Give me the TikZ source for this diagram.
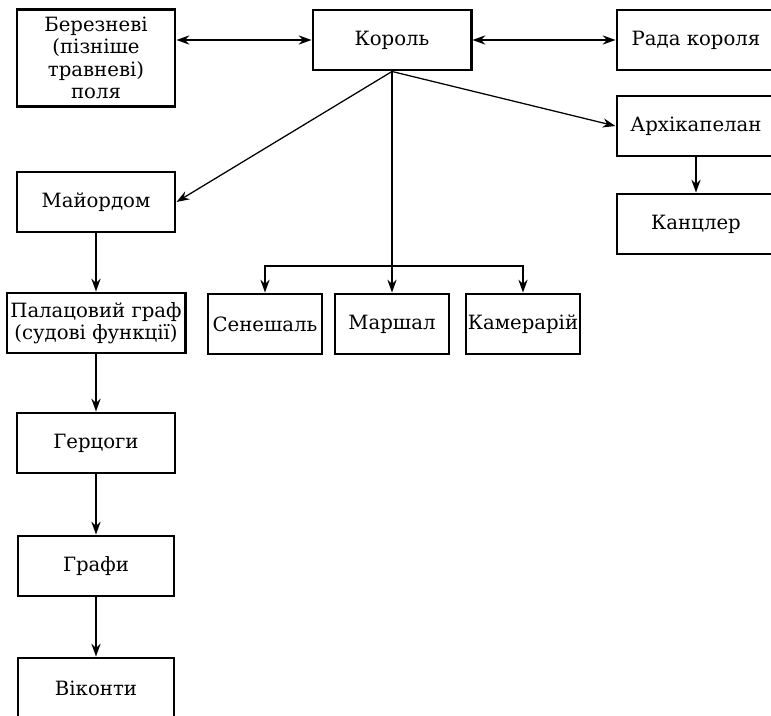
\documentclass[tikz,border=0pt]{standalone}
\usepackage{fontspec}
\setmainfont{DejaVu Serif}
\usetikzlibrary{arrows.meta}

\begin{document}
\begin{tikzpicture}[x=0.025cm, y=-0.025cm,
    box/.style={draw, line width=2.1pt, minimum height=1.5cm, align=center,
        inner sep=1pt, font=\fontsize{14}{16}\selectfont},
    arr/.style={-{Stealth[length=3.2mm, width=2.3mm]}, line width=0.9pt},
    both/.style={{Stealth[length=3.2mm, width=2.3mm]}-{Stealth[length=3.2mm, width=2.3mm]}, line width=0.9pt}]
    \useasboundingbox (0,0) rectangle (771,716);

    % top row
    \node[box, minimum width=3.95cm, minimum height=2.42cm] (berez) at (96,58) {Березневі\\(пізніше\\травневі)\\поля};
    \node[box, minimum width=3.95cm] (korol) at (392,40) {Король};
    \node[box, minimum width=3.95cm] (rada) at (696,40) {Рада короля};
    \draw[both] (korol.west -| berez.east) -- (korol.west);
    \draw[both] (korol) -- (rada);

    % right branch
    \node[box, minimum width=3.95cm] (arkh) at (696,126) {Архікапелан};
    \node[box, minimum width=3.95cm] (kancl) at (696,224) {Канцлер};
    \draw[arr] (korol.south) -- (arkh.west);
    \draw[arr] (arkh) -- (kancl);

    % middle branch
    \node[box, minimum width=2.85cm] (senesh) at (265,324) {Сенешаль};
    \node[box, minimum width=2.85cm] (marsh) at (392,324) {Маршал};
    \node[box, minimum width=2.85cm] (kamer) at (523,324) {Камерарій};
    \coordinate (split) at (392,266);
    \draw[arr] (korol.south) -- (marsh.north);
    \draw[arr] (split) -| (senesh.north);
    \draw[arr] (split) -| (kamer.north);

    % left branch
    \node[box, minimum width=3.95cm] (mayor) at (96,202) {Майордом};
    \node[box, minimum width=4.45cm] (palats) at (96,323) {Палацовий граф\\(судові функції)};
    \node[box, minimum width=3.95cm] (gerts) at (96,443) {Герцоги};
    \node[box, minimum width=3.9cm] (grafy) at (96,566) {Графи};
    \node[box, minimum width=3.9cm] (vikonty) at (96,688) {Віконти};
    \draw[arr] (korol.south) -- (mayor.east);
    \draw[arr] (mayor) -- (palats);
    \draw[arr] (palats) -- (gerts);
    \draw[arr] (gerts) -- (grafy);
    \draw[arr] (grafy) -- (vikonty);
\end{tikzpicture}
\end{document}
